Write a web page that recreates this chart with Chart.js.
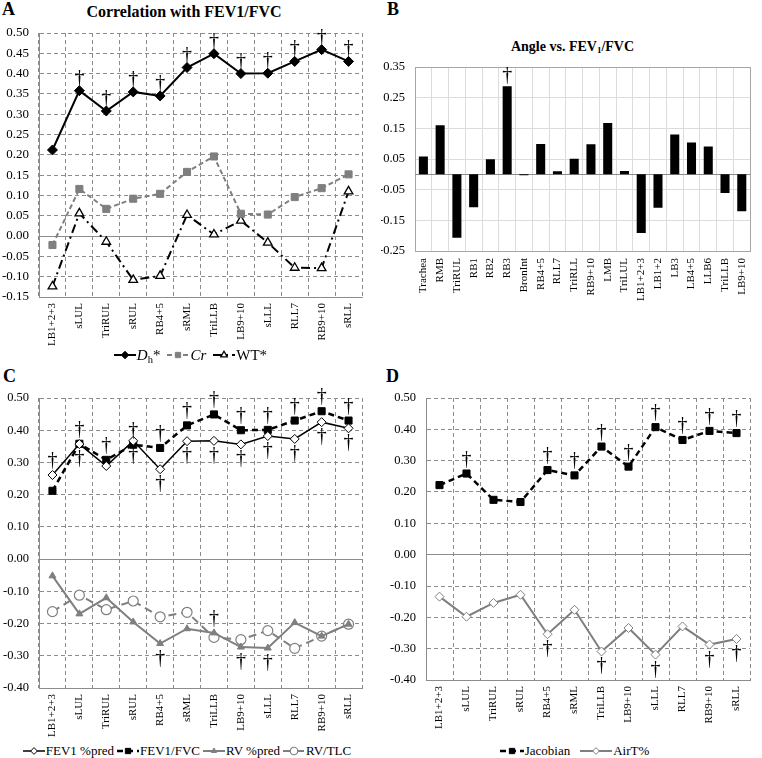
<!DOCTYPE html>
<html>
<head>
<meta charset="utf-8">
<title>Correlation panels</title>
<script src="https://cdn.jsdelivr.net/npm/chart.js@4.4.1/dist/chart.umd.min.js"></script>
<style>
  body { margin: 0; background: #fff; }
  #page { position: relative; width: 762px; height: 758px; overflow: hidden; font-family: "Liberation Serif", "Times New Roman", serif; color: #000; }
  #page canvas.chart { position: absolute; }
  .letter { position: absolute; font-weight: bold; font-size: 18px; line-height: 1; }
  .title { position: absolute; font-weight: bold; text-align: center; line-height: 1; white-space: nowrap; }
  .legend { position: absolute; display: flex; justify-content: center; align-items: center; white-space: nowrap; height: 18px; }
  .legend .item { display: inline-flex; align-items: center; }
  .legend sub { font-size: 70%; vertical-align: -3px; line-height: 0; }
</style>
</head>
<body>
<div id="page">
  <div class="letter" style="left:2px;top:0px">A</div>
  <div class="letter" style="left:387px;top:0px">B</div>
  <div class="letter" style="left:3px;top:367px">C</div>
  <div class="letter" style="left:386px;top:367px">D</div>
  <div class="title" style="left:0;width:368px;top:4px;font-size:16px">Correlation with FEV1/FVC</div>
  <div class="title" style="left:381px;width:383px;top:40px;font-size:14px">Angle vs. FEV<sub style="font-size:9px;vertical-align:-2px;line-height:0">1</sub>/FVC</div>

  <canvas class="chart" id="chartA" width="381" height="349" style="left:0;top:0"></canvas>
  <canvas class="chart" id="chartB" width="381" height="311" style="left:381px;top:0"></canvas>
  <canvas class="chart" id="chartC" width="381" height="370" style="left:0;top:370px"></canvas>
  <canvas class="chart" id="chartD" width="381" height="360" style="left:381px;top:370px"></canvas>

  <div class="legend" id="legA" style="left:0;width:381px;top:346px;font-size:15px"></div>
  <div class="legend" id="legC" style="left:0;width:374px;top:742px;font-size:13px"></div>
  <div class="legend" id="legD" style="left:381px;width:387px;top:742px;font-size:13px"></div>
</div>
<script>
// airway segments used in panels A, C and D
const segments = ['LB1+2+3', 'sLUL', 'TriRUL', 'sRUL', 'RB4+5', 'sRML', 'TriLLB', 'LB9+10', 'sLLL', 'RLL7', 'RB9+10', 'sRLL'];

// panel A
const dhVals = [0.212, 0.358, 0.308, 0.355, 0.345, 0.415, 0.449, 0.400, 0.401, 0.430, 0.459, 0.430];
const crVals = [-0.022, 0.116, 0.067, 0.092, 0.104, 0.158, 0.196, 0.055, 0.053, 0.096, 0.118, 0.152];
const wtVals = [-0.124, 0.056, -0.014, -0.108, -0.098, 0.052, 0.004, 0.038, -0.016, -0.078, -0.079, 0.110];
const dhSig = [0, 1, 1, 1, 1, 1, 1, 1, 1, 1, 1, 1];

// panel B
const angleCats = ['Trachea', 'RMB', 'TriRUL', 'RB1', 'RB2', 'RB3', 'BronInt', 'RB4+5', 'RLL7', 'TriRLL',
  'RB9+10', 'LMB', 'TriLUL', 'LB1+2+3', 'LB1+2', 'LB3', 'LB4+5', 'LLB6', 'TriLLB', 'LB9+10'];
const angleVals = [0.058, 0.160, -0.207, -0.107, 0.049, 0.287, -0.003, 0.099, 0.010, 0.051,
  0.098, 0.167, 0.011, -0.191, -0.109, 0.130, 0.104, 0.091, -0.061, -0.120];
const angleSig = [0, 0, 0, 0, 0, 1, 0, 0, 0, 0, 0, 0, 0, 0, 0, 0, 0, 0, 0, 0];

// panel C
const fev1Pred = [0.261, 0.357, 0.289, 0.367, 0.279, 0.366, 0.367, 0.356, 0.382, 0.373, 0.425, 0.406];
const fev1Fvc = [0.212, 0.358, 0.308, 0.355, 0.345, 0.415, 0.449, 0.400, 0.401, 0.430, 0.459, 0.430];
const rvPred = [-0.052, -0.170, -0.120, -0.195, -0.262, -0.216, -0.229, -0.273, -0.276, -0.197, -0.239, -0.202];
const rvTlc = [-0.163, -0.112, -0.157, -0.130, -0.179, -0.165, -0.243, -0.250, -0.222, -0.277, -0.239, -0.202];
const fev1FvcSigUp = [0, 1, 1, 1, 1, 1, 1, 1, 1, 1, 1, 1];
const fev1PredSigUp = [1, 0, 0, 0, 0, 0, 0, 0, 0, 0, 0, 0];
const fev1PredSigDown = [0, 1, 0, 1, 1, 1, 1, 1, 1, 1, 1, 1];
const rvPredSigUp = [0, 0, 0, 0, 0, 0, 1, 0, 0, 0, 0, 0];
const rvPredSigDown = [0, 0, 0, 0, 1, 0, 0, 1, 1, 0, 0, 0];

// panel D
const jacobVals = [0.222, 0.259, 0.175, 0.168, 0.270, 0.253, 0.345, 0.281, 0.407, 0.366, 0.395, 0.388];
const airTVals = [-0.134, -0.198, -0.154, -0.128, -0.254, -0.176, -0.309, -0.234, -0.319, -0.229, -0.287, -0.269];
const jacobSig = [0, 1, 0, 0, 1, 1, 1, 1, 1, 1, 1, 1];
const airTSig = [0, 0, 0, 0, 1, 0, 1, 0, 1, 0, 1, 1];

const SERIF = '"Liberation Serif", "Times New Roman", serif';
const GRID = '#8c8c8c';
const GRAY = '#7f7f7f';

// daggers (significance marks) drawn above/below data points
const daggerPlugin = {
  id: 'dagger',
  defaults: { marks: [], gap: 5, size: 20 },
  afterDatasetsDraw(chart, args, opts) {
    if (!opts.marks || !opts.marks.length) return;
    const ctx = chart.ctx;
    ctx.save();
    ctx.font = opts.size + 'px ' + SERIF;
    ctx.fillStyle = '#000';
    ctx.textAlign = 'center';
    ctx.textBaseline = 'alphabetic';
    const m = ctx.measureText('\u2020');
    opts.marks.forEach(mk => {
      const meta = chart.getDatasetMeta(mk.ds);
      mk.flags.forEach((f, i) => {
        if (!f) return;
        const p = meta.data[i];
        const y = mk.side === 'above'
          ? p.y - opts.gap - m.actualBoundingBoxDescent
          : p.y + opts.gap + m.actualBoundingBoxAscent;
        ctx.fillText('\u2020', p.x, y);
      });
    });
    ctx.restore();
  }
};

// zero line for the bar panel (0 is not one of its ticks)
const zeroLine = {
  id: 'zeroLine',
  defaults: { color: null },
  beforeDatasetsDraw(chart, args, opts) {
    if (!opts.color) return;
    const { ctx, chartArea } = chart;
    const y = Math.round(chart.scales.y.getPixelForValue(0)) + 0.5;
    ctx.save();
    ctx.strokeStyle = opts.color;
    ctx.lineWidth = 1;
    ctx.beginPath();
    ctx.moveTo(chartArea.left, y);
    ctx.lineTo(chartArea.right, y);
    ctx.stroke();
    ctx.restore();
  }
};
Chart.register(daggerPlugin, zeroLine);

function lineScales(min, max, step, yWidth, xHeight, yFont) {
  return {
    x: {
      offset: true,
      grid: { offset: true, color: GRID, lineWidth: 1, drawTicks: false },
      border: { color: GRID, dash: [4, 3] },
      ticks: {
        autoSkip: false, minRotation: 90, maxRotation: 90, padding: 6,
        color: '#000', font: { family: SERIF, size: 11 }
      },
      afterFit(s) { s.height = xHeight; }
    },
    y: {
      min: min, max: max,
      grid: { color: GRID, lineWidth: 1, drawTicks: false },
      border: { color: GRID, dash: ctx => (ctx.tick && ctx.tick.value !== 0) ? [4, 3] : [] },
      ticks: {
        stepSize: step, padding: 10, color: '#000',
        font: { family: SERIF, size: yFont },
        callback: v => v.toFixed(2)
      },
      afterFit(s) { s.width = yWidth; }
    }
  };
}

function lineDs(label, data, st) {
  return Object.assign({ label: label, data: data, fill: false, tension: 0, pointBorderWidth: 1 }, st);
}

const baseOpts = {
  responsive: false,
  animation: false,
  events: [],
};

// ---------- panel A ----------
const dsA = [
  lineDs('Dh*', dhVals, { borderColor: '#000', borderWidth: 2, pointStyle: 'rectRot', pointRadius: 5,
    pointBackgroundColor: '#000', pointBorderColor: '#000' }),
  lineDs('Cr', crVals, { borderColor: GRAY, borderWidth: 2, borderDash: [5, 3], pointStyle: 'rect', pointRadius: 5,
    pointBackgroundColor: GRAY, pointBorderColor: GRAY }),
  lineDs('WT*', wtVals, { borderColor: '#000', borderWidth: 2, borderDash: [9, 4, 2, 4], pointStyle: 'triangle', pointRadius: 5,
    pointBackgroundColor: '#fff', pointBorderColor: '#000', pointBorderWidth: 1.3 })
];
new Chart(document.getElementById('chartA'), {
  type: 'line',
  data: { labels: segments, datasets: dsA },
  options: Object.assign({}, baseOpts, {
    layout: { padding: { top: 33, right: 19, left: 0, bottom: 0 } },
    scales: lineScales(-0.15, 0.5, 0.05, 39, 52, 13),
    plugins: {
      legend: { display: false }, tooltip: { enabled: false },
      dagger: { gap: 4, marks: [{ ds: 0, flags: dhSig, side: 'above' }] }
    }
  })
});

// ---------- panel B ----------
new Chart(document.getElementById('chartB'), {
  type: 'bar',
  data: {
    labels: angleCats,
    datasets: [{ label: 'Angle', data: angleVals, backgroundColor: '#000', borderWidth: 0,
      categoryPercentage: 1, barPercentage: 0.54 }]
  },
  options: Object.assign({}, baseOpts, {
    layout: { padding: { top: 67, right: 1, left: 0, bottom: 0 } },
    scales: {
      x: {
        grid: { offset: true, drawTicks: false, color: ctx => ctx.type === 'tick' ? '#dcdcdc' : '#a6a6a6' },
        border: { color: '#a6a6a6' },
        ticks: { autoSkip: false, minRotation: 90, maxRotation: 90, padding: 7, color: '#000',
          font: { family: SERIF, size: 11 } },
        afterFit(s) { s.height = 60; }
      },
      y: {
        min: -0.25, max: 0.35,
        grid: { drawTicks: false, color: ctx => (ctx.tick && ctx.tick.value > 0.34) ? '#a6a6a6' : '#dcdcdc' },
        border: { color: '#a6a6a6' },
        ticks: { stepSize: 0.1, padding: 10, color: '#000', font: { family: SERIF, size: 12.5 },
          callback: v => v.toFixed(2) },
        afterFit(s) { s.width = 34; }
      }
    },
    plugins: {
      legend: { display: false }, tooltip: { enabled: false },
      zeroLine: { color: '#8c8c8c' },
      dagger: { gap: 2, marks: [{ ds: 0, flags: angleSig, side: 'above' }] }
    }
  })
});

// ---------- panel C ----------
const dsC = [
  lineDs('FEV1 %pred', fev1Pred, { borderColor: '#000', borderWidth: 1.5, pointStyle: 'rectRot', pointRadius: 4.5,
    pointBackgroundColor: '#fff', pointBorderColor: '#000' }),
  lineDs('FEV1/FVC', fev1Fvc, { borderColor: '#000', borderWidth: 2.5, borderDash: [6, 4], pointStyle: 'rect', pointRadius: 5,
    pointBackgroundColor: '#000', pointBorderColor: '#000' }),
  lineDs('RV %pred', rvPred, { borderColor: GRAY, borderWidth: 2, pointStyle: 'triangle', pointRadius: 4,
    pointBackgroundColor: GRAY, pointBorderColor: GRAY }),
  lineDs('RV/TLC', rvTlc, { borderColor: GRAY, borderWidth: 2, borderDash: [8, 5], pointStyle: 'circle', pointRadius: 5,
    pointBackgroundColor: '#fff', pointBorderColor: GRAY, pointBorderWidth: 1.2 })
];
new Chart(document.getElementById('chartC'), {
  type: 'line',
  data: { labels: segments, datasets: dsC },
  options: Object.assign({}, baseOpts, {
    layout: { padding: { top: 28, right: 19, left: 0, bottom: 0 } },
    scales: lineScales(-0.4, 0.5, 0.1, 39, 52, 12.5),
    plugins: {
      legend: { display: false }, tooltip: { enabled: false },
      dagger: { gap: 6, marks: [
        { ds: 1, flags: fev1FvcSigUp, side: 'above' },
        { ds: 0, flags: fev1PredSigUp, side: 'above' },
        { ds: 0, flags: fev1PredSigDown, side: 'below' },
        { ds: 2, flags: rvPredSigUp, side: 'above' },
        { ds: 2, flags: rvPredSigDown, side: 'below' }
      ] }
    }
  })
});

// ---------- panel D ----------
const dsD = [
  lineDs('Jacobian', jacobVals, { borderColor: '#000', borderWidth: 2.5, borderDash: [6, 4], pointStyle: 'rect', pointRadius: 5,
    pointBackgroundColor: '#000', pointBorderColor: '#000' }),
  lineDs('AirT%', airTVals, { borderColor: GRAY, borderWidth: 2, pointStyle: 'rectRot', pointRadius: 4.5,
    pointBackgroundColor: '#fff', pointBorderColor: GRAY })
];
new Chart(document.getElementById('chartD'), {
  type: 'line',
  data: { labels: segments, datasets: dsD },
  options: Object.assign({}, baseOpts, {
    layout: { padding: { top: 28, right: 12, left: 0, bottom: 0 } },
    scales: lineScales(-0.4, 0.5, 0.1, 45, 50, 12.5),
    plugins: {
      legend: { display: false }, tooltip: { enabled: false },
      dagger: { gap: 6, marks: [
        { ds: 0, flags: jacobSig, side: 'above' },
        { ds: 1, flags: airTSig, side: 'below' }
      ] }
    }
  })
});

// ---------- legends (line sample + marker, then text) ----------
function marker(g, style, r, x, y) {
  g.beginPath();
  if (style === 'rect') {
    const s = r * Math.SQRT1_2;
    g.rect(x - s, y - s, 2 * s, 2 * s);
  } else if (style === 'rectRot') {
    g.moveTo(x, y - r); g.lineTo(x + r, y); g.lineTo(x, y + r); g.lineTo(x - r, y); g.closePath();
  } else if (style === 'triangle') {
    g.moveTo(x, y - r);
    g.lineTo(x + r * Math.sin(Math.PI * 2 / 3), y - r * Math.cos(Math.PI * 2 / 3));
    g.lineTo(x - r * Math.sin(Math.PI * 2 / 3), y - r * Math.cos(Math.PI * 2 / 3));
    g.closePath();
  } else {
    g.arc(x, y, r, 0, Math.PI * 2);
  }
  g.fill();
  g.stroke();
}

function sample(ds, w) {
  const c = document.createElement('canvas');
  c.width = w; c.height = 14;
  const g = c.getContext('2d');
  g.strokeStyle = ds.borderColor;
  g.lineWidth = ds.borderWidth;
  g.setLineDash(ds.borderDash || []);
  g.beginPath(); g.moveTo(0, 7); g.lineTo(w, 7); g.stroke();
  g.setLineDash([]);
  g.fillStyle = ds.pointBackgroundColor;
  g.strokeStyle = ds.pointBorderColor;
  g.lineWidth = ds.pointBorderWidth;
  marker(g, ds.pointStyle, ds.pointRadius * 0.75, w / 2, 7);
  return c;
}

function buildLegend(id, datasets, texts, gap, widths) {
  const box = document.getElementById(id);
  datasets.forEach((ds, i) => {
    const item = document.createElement('span');
    item.className = 'item';
    if (i > 0) item.style.marginLeft = gap + 'px';
    item.appendChild(sample(ds, widths[i]));
    const t = document.createElement('span');
    t.innerHTML = texts[i];
    t.style.marginLeft = '1px';
    item.appendChild(t);
    box.appendChild(item);
  });
}

buildLegend('legA', dsA, ['<i>D</i><sub>h</sub>*', '<i>Cr</i>', 'WT*'], 7, [22, 22, 22]);
buildLegend('legC', dsC, ['FEV1 %pred', 'FEV1/FVC', 'RV %pred', 'RV/TLC'], 3, [22, 22, 22, 22]);
buildLegend('legD', dsD, ['Jacobian', 'AirT%'], 10, [24, 32]);
</script>
</body>
</html>
